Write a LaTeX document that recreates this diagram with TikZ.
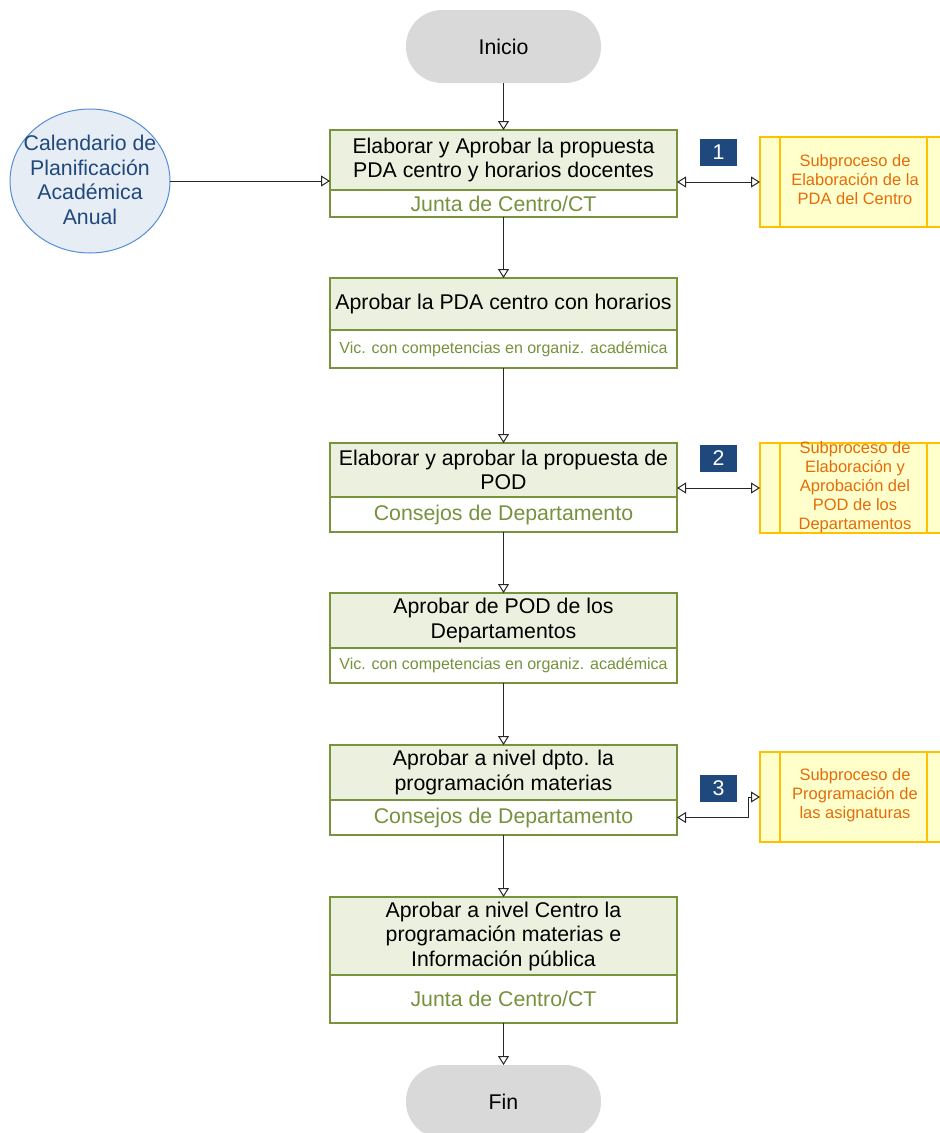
\documentclass[tikz,border=0pt]{standalone}
\usepackage{fontspec}
\setmainfont{Liberation Sans}
\usetikzlibrary{arrows.meta,shapes.geometric}
\definecolor{gborder}{HTML}{77933C}
\definecolor{gfill}{HTML}{EBF1DE}
\definecolor{gtext}{HTML}{76923C}
\definecolor{pill}{HTML}{D9D9D9}
\definecolor{cfill}{HTML}{E7EDF4}
\definecolor{cline}{HTML}{558ED5}
\definecolor{ctext}{HTML}{1F497D}
\definecolor{badge}{HTML}{1F497D}
\definecolor{sfill}{HTML}{FFFFCC}
\definecolor{sline}{HTML}{FFC000}
\definecolor{stext}{HTML}{E46C0A}
\begin{document}
\begin{tikzpicture}[x=1pt,y=-1pt,
  every node/.style={inner sep=0pt, outer sep=0pt},
  big/.style={font=\fontsize{21.3}{24.5}\selectfont},
  small/.style={font=\fontsize{16}{18}\selectfont},
  task/.style={draw=gborder, line width=2.5pt, fill=gfill, minimum width=347, align=center, big},
  role/.style={draw=gborder, line width=2.5pt, fill=white, minimum width=347, align=center, text=gtext},
  terminal/.style={fill=pill, minimum width=195, minimum height=73, rounded corners=36, big},
  subbox/.style={draw=sline, line width=2pt, fill=sfill, minimum width=187, minimum height=90},
  subtext/.style={align=center, text=stext, font=\fontsize{16.5}{19}\selectfont},
  num/.style={fill=badge, text=white, minimum width=37, minimum height=27, big},
  tip/.tip={Triangle[open,length=9pt,width=11pt]},
  flow/.style={draw=black!85, line width=1pt, -tip},
  both/.style={draw=black!85, line width=1pt, tip-tip},
  subline/.style={draw=sline, line width=2pt}
]
\useasboundingbox (0,0) rectangle (940,1133);

% terminals
\node[terminal] (ini) at (503.5,46.5) {Inicio};
\node[terminal] (fin) at (503.5,1101.5) {Fin};

% input calendar: outline and its text
\node[ellipse, draw=cline, line width=1pt, fill=cfill, minimum width=160, minimum height=144] (cal) at (90,181) {};
\node[text=ctext, align=center, big] (calt) at (90,180)
      {Calendario de\\Planificación\\Académica\\Anual};

% process steps: activity on top, responsible below
\node[task, minimum height=60] (b1t) at (503.5,160) {Elaborar y Aprobar la propuesta\\PDA centro y horarios docentes};
\node[role, minimum height=27, big] (b1b) at (503.5,203.5) {Junta de Centro/CT};

\node[task, minimum height=52] (b2t) at (503.5,304) {Aprobar la PDA centro con horarios};
\node[role, minimum height=38, small] (b2b) at (503.5,349) {Vic. con competencias en organiz. académica};

\node[task, minimum height=54] (b3t) at (503.5,470) {Elaborar y aprobar la propuesta de\\POD};
\node[role, minimum height=35, big] (b3b) at (503.5,514.5) {Consejos de Departamento};

\node[task, minimum height=55] (b4t) at (503.5,620.5) {Aprobar de POD de los\\Departamentos};
\node[role, minimum height=35, small] (b4b) at (503.5,665.5) {Vic. con competencias en organiz. académica};

\node[task, minimum height=55] (b5t) at (503.5,772.5) {Aprobar a nivel dpto. la\\programación materias};
\node[role, minimum height=35, big] (b5b) at (503.5,817.5) {Consejos de Departamento};

\node[task, minimum height=78] (b6t) at (503.5,936) {Aprobar a nivel Centro la\\programación materias e\\Información pública};
\node[role, minimum height=48, big] (b6b) at (503.5,999) {Junta de Centro/CT};

% subprocesses
\node[subbox] (s1) at (853.5,182) {};
\node[subbox] (s2) at (853.5,488) {};
\node[subbox] (s3) at (853.5,797) {};
\foreach \s in {s1,s2,s3} {
  \draw[subline] ([xshift=20pt]\s.north west) -- ([xshift=20pt]\s.south west);
  \draw[subline] ([xshift=-20pt]\s.north east) -- ([xshift=-20pt]\s.south east);
}
\node[subtext] (s1t) at (855,180) {Subproceso de\\Elaboración de la\\PDA del Centro};
\node[subtext] (s2t) at (855,487) {Subproceso de\\Elaboración y\\Aprobación del\\POD de los\\Departamentos};
\node[subtext] (s3t) at (855,795) {Subproceso de\\Programación de\\las asignaturas};

% step numbers
\node[num] (n1) at (718.5,152.5) {1};
\node[num] (n2) at (718.5,458.5) {2};
\node[num] (n3) at (718.5,788.5) {3};

% main flow
\draw[flow] (ini) -- (b1t);
\draw[flow] (b1b) -- (b2t);
\draw[flow] (b2b) -- (b3t);
\draw[flow] (b3b) -- (b4t);
\draw[flow] (b4b) -- (b5t);
\draw[flow] (b5b) -- (b6t);
\draw[flow] (b6b) -- (fin);

% input and subprocess links
\draw[flow] (cal.east) -- (cal.east -| b1t.west);
\draw[both] (b1t.east |- s1.west) -- (s1.west);
\draw[both] (b3t.east |- s2.west) -- (s2.west);
\coordinate (k3) at ([xshift=-12pt]s3.west);
\draw[both] (b5b.east) -| (k3) -- (s3.west);
\end{tikzpicture}
\end{document}
